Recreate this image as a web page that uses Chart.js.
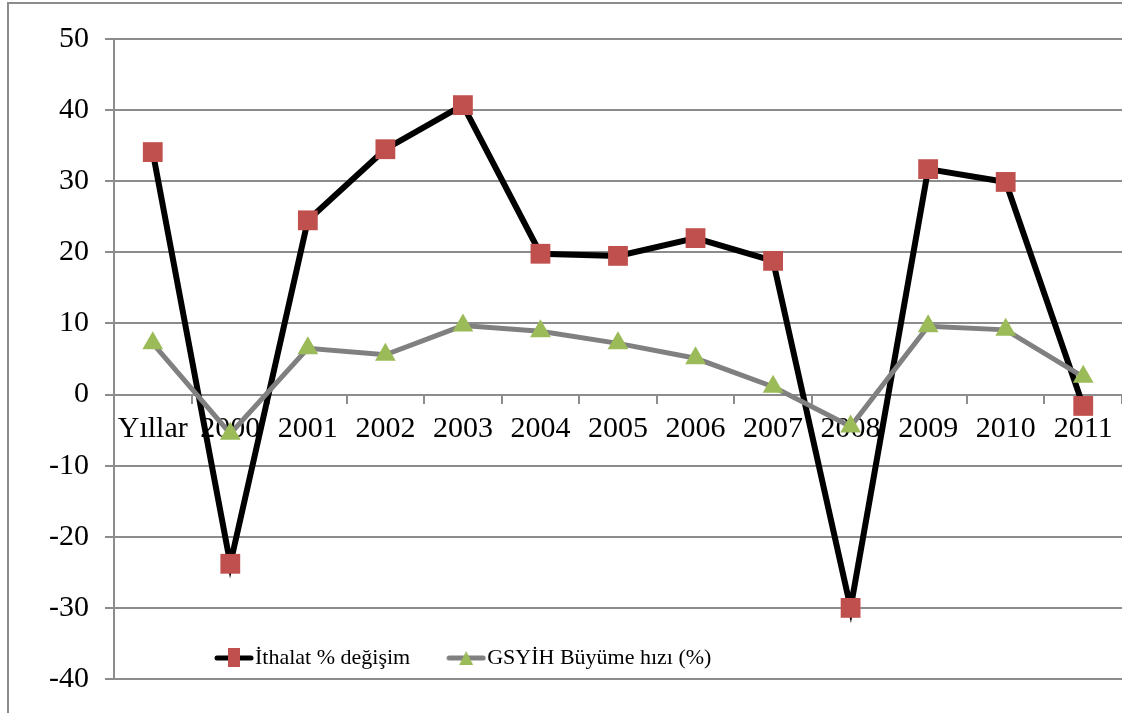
<!DOCTYPE html>
<html>
<head>
<meta charset="utf-8">
<script src="https://cdn.jsdelivr.net/npm/chart.js@4"></script>
<style>
  html, body { margin: 0; padding: 0; background: #fff; overflow: hidden; }
  #wrap { position: relative; width: 1122px; height: 713px; }
  #frame { position: absolute; left: 7px; top: 2px; width: 1200px; height: 800px;
           border: 2px solid #8c8c8c; box-sizing: border-box; }
  canvas { position: absolute; left: 0; top: 0; }
</style>
</head>
<body>
<div id="wrap">
  <div id="frame"></div>
  <canvas id="chart" width="1122" height="713"></canvas>
</div>
<script>
const categories = ['Yıllar', '2000', '2001', '2002', '2003', '2004', '2005', '2006', '2007', '2008', '2009', '2010', '2011'];
const ithalat = [34.1, -23.8, 24.5, 34.5, 40.7, 19.8, 19.5, 22.0, 18.8, -30.0, 31.7, 29.9, -1.6];
const gsyih = [7.2, -5.5, 6.5, 5.6, 9.7, 8.9, 7.2, 5.1, 1.1, -4.5, 9.6, 9.1, 2.5];
const yTicks = { min: -40, max: 50, step: 10 };

const FONT = 'Liberation Serif';
const GRID = '#8c8c8c';
const RED = '#c0504d';
const GREEN = '#9bbb59';

// Excel-style legend symbol: a short line with the marker in the middle
function legendSymbol(lineColor, marker, fill) {
  const c = document.createElement('canvas');
  c.width = 40;
  c.height = 22;
  const g = c.getContext('2d');
  g.strokeStyle = lineColor;
  g.lineWidth = 5;
  g.lineCap = 'round';
  g.beginPath();
  g.moveTo(3, 11);
  g.lineTo(37, 11);
  g.stroke();
  g.fillStyle = fill;
  if (marker === 'rect') {
    g.fillRect(14, 1, 12, 19);
  } else {
    g.beginPath();
    g.moveTo(20, 4);
    g.lineTo(27, 18);
    g.lineTo(13, 18);
    g.closePath();
    g.fill();
  }
  return c;
}

const symbols = [legendSymbol('#000', 'rect', RED), legendSymbol('#808080', 'triangle', GREEN)];

// move the legend up into the plot area, as in the original
const legendInside = {
  id: 'legendInside',
  afterLayout(chart) {
    const l = chart.legend;
    l.left = 178;
    l.top = 601;
    l.bottom = 713;
  }
};

new Chart(document.getElementById('chart'), {
  type: 'line',
  data: {
    labels: categories,
    datasets: [
      {
        label: 'İthalat % değişim',
        data: ithalat,
        borderColor: '#000',
        borderWidth: 6,
        pointStyle: 'rect',
        pointRadius: 14,
        pointBackgroundColor: RED,
        pointBorderColor: RED,
        pointBorderWidth: 0,
        tension: 0,
        order: 2,
      },
      {
        label: 'GSYİH Büyüme hızı (%)',
        data: gsyih,
        borderColor: '#808080',
        borderWidth: 5,
        pointStyle: 'triangle',
        pointRadius: 12,
        pointBackgroundColor: GREEN,
        pointBorderColor: GREEN,
        pointBorderWidth: 0,
        tension: 0,
        order: 1,
      }
    ],
  },
  options: {
    responsive: false,
    animation: false,
    layout: { autoPadding: false, padding: { left: 33, top: 39, right: 0, bottom: 0 } },
    plugins: {
      tooltip: { enabled: false },
      legend: {
        position: 'bottom',
        align: 'start',
        maxHeight: 34,
        labels: {
          usePointStyle: true,
          boxWidth: 20,
          pointStyleWidth: 20,
          padding: 46,
          color: '#000',
          font: { family: FONT, size: 22 },
          generateLabels: (chart) => chart.data.datasets.map((ds, i) => ({
            text: ds.label,
            pointStyle: symbols[i],
            datasetIndex: i,
            hidden: false,
            lineWidth: 0,
            fillStyle: 'transparent',
            strokeStyle: 'transparent',
          })),
        },
      },
    },
    scales: {
      x: {
        type: 'category',
        position: { y: 0 },
        offset: true,
        afterFit(scale) {
          scale.paddingLeft = 0;
          scale.paddingRight = 0;
        },
        grid: {
          drawOnChartArea: false,
          drawTicks: true,
          tickLength: 8,
          color: GRID,
          lineWidth: 2,
          offset: true,
        },
        border: { color: GRID, width: 2 },
        ticks: {
          color: '#000',
          font: { family: FONT, size: 30 },
          padding: 9,
          maxRotation: 0,
          autoSkip: false,
        },
      },
      y: {
        min: yTicks.min,
        max: yTicks.max,
        grid: { color: GRID, lineWidth: 2, tickLength: 9 },
        border: { color: GRID, width: 2 },
        ticks: {
          stepSize: yTicks.step,
          color: '#000',
          font: { family: FONT, size: 30 },
          padding: 16,
        },
      },
    },
  },
  plugins: [legendInside],
});
</script>
</body>
</html>
